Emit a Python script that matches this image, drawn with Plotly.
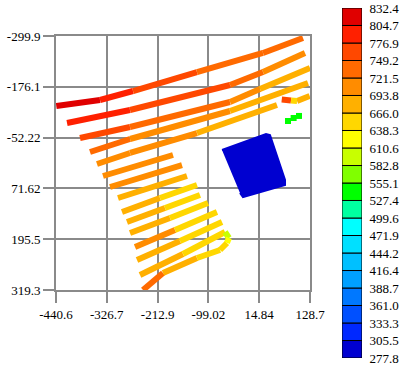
import plotly.graph_objects as go

# ---------------- colour classes ----------------
bounds = [277.8, 305.5, 333.3, 361.0, 388.7, 416.4, 444.2, 471.9, 499.6, 527.4, 555.1,
          582.8, 610.6, 638.3, 666.0, 693.8, 721.5, 749.2, 776.9, 804.7, 832.4]
bound_labels = ["277.8", "305.5", "333.3", "361.0", "388.7", "416.4", "444.2", "471.9", "499.6",
                "527.4", "555.1", "582.8", "610.6", "638.3", "666.0", "693.8", "721.5", "749.2",
                "776.9", "804.7", "832.4"]
bin_colors = ["#0000d0", "#0028ff", "#0050ff", "#0078ff", "#00a0ff", "#00c0ff", "#00e0ff",
              "#00ffff", "#00ffa0", "#00ff00", "#80ff00", "#c8ff00", "#ffff00", "#ffd700",
              "#ffb000", "#ff8c00", "#ff6a00", "#ff4800", "#ff2000", "#e00000"]

# ---------------- axes ----------------
x_ticks = [-440.6, -326.74, -212.88, -99.02, 14.84, 128.7]
x_labels = ["-440.6", "-326.7", "-212.9", "-99.02", "14.84", "128.7"]
y_ticks = [-299.9, -176.06, -52.22, 71.62, 195.46, 319.3]
y_labels = ["-299.9", "-176.1", "-52.22", "71.62", "195.5", "319.3"]

# ---------------- survey tracks (vertices + one value per segment) ----------------
track01_x = [-440.0, -342.0, -268.0, -124.6, 23.4, 113.0]
track01_y = [-129.3, -143.9, -165.8, -212.1, -258.5, -295.0]
track01_v = [808, 790, 765, 742, 730]

track02_x = [-415.9, -274.7, -50.6, 23.4, 117.5]
track02_y = [-87.8, -119.5, -180.4, -212.1, -258.5]
track02_v = [785, 755, 725, 700]

track03_x = [-386.8, -274.7, -50.6, 16.6, 128.7]
track03_y = [-51.2, -78.1, -139.0, -170.7, -221.9]
track03_v = [760, 735, 710, 688]

track04_x = [-364.4, -274.7, -50.6, 124.2]
track04_y = [-17.1, -48.8, -117.1, -185.3]
track04_v = [738, 712, 688]

track05_x = [-348.7, -274.7, -124.6, 54.7]
track05_y = [12.1, -14.7, -63.4, -131.7]
track05_v = [712, 700, 690]

piece05_x = [65.4, 86.1, 99.6, 128.0]
piece05_y = [-145.1, -142.6, -141.4, -153.6]
piece05_v = [765, 650, 680]

track06_x = [-335.3, -178.4]
track06_y = [41.4, -9.8]
track06_v = [705]

track07_x = [-319.6, -158.2]
track07_y = [68.2, 14.6]
track07_v = [698]

track08_x = [-301.6, -147.0]
track08_y = [95.0, 41.4]
track08_v = [692]

track09_x = [-292.7, -207.5, -124.6]
track09_y = [129.2, 95.0, 63.3]
track09_v = [685, 665]

track10_x = [-281.5, -196.3, -117.9]
track10_y = [153.5, 119.4, 87.7]
track10_v = [685, 660]

track11_x = [-274.7, -185.1, -99.9]
track11_y = [180.4, 143.8, 107.2]
track11_v = [690, 660]

track12_x = [-263.5, -173.9, -79.8]
track12_y = [214.5, 173.0, 129.2]
track12_v = [695, 660]

track13_x = [-259.1, -162.7, -68.5]
track13_y = [246.2, 199.9, 153.5]
track13_v = [690, 655]

track14_x = [-252.3, -156.0, -61.8, -52.9]
track14_y = [282.7, 231.5, 177.9, 192.5]
track14_v = [680, 655, 600]

track15_x = [-245.6, -200.8, -124.6, -73.0, -57.4, -52.9]
track15_y = [319.3, 277.9, 241.3, 221.8, 204.7, 192.5]
track15_v = [725, 685, 665, 650, 625]

# low-value block
patch_x = [-68.5, -43.9, 30.1, 39.0, 72.7, 72.7, -21.5, -28.2]
patch_y = [-22.0, -31.7, -61.0, -58.6, 51.1, 63.3, 92.6, 82.8]
patch_v = 290.0

# isolated points
spot_x = [79.4, 92.0, 104.0]
spot_y = [-92.7, -100.0, -105.0]
spot_v = [545, 540, 540]

tracks = [
    (track01_x, track01_y, track01_v), (track02_x, track02_y, track02_v),
    (track03_x, track03_y, track03_v), (track04_x, track04_y, track04_v),
    (track05_x, track05_y, track05_v), (piece05_x, piece05_y, piece05_v),
    (track06_x, track06_y, track06_v), (track07_x, track07_y, track07_v),
    (track08_x, track08_y, track08_v), (track09_x, track09_y, track09_v),
    (track10_x, track10_y, track10_v), (track11_x, track11_y, track11_v),
    (track12_x, track12_y, track12_v), (track13_x, track13_y, track13_v),
    (track14_x, track14_y, track14_v), (track15_x, track15_y, track15_v),
]


def color_of(v):
    for i in range(len(bin_colors)):
        if bounds[i] <= v < bounds[i + 1]:
            return bin_colors[i]
    return bin_colors[-1] if v >= bounds[-1] else bin_colors[0]


fig = go.Figure()

# low-value block
fig.add_trace(go.Scatter(x=patch_x, y=patch_y, mode="lines", fill="toself",
                         fillcolor=color_of(patch_v),
                         line=dict(color=color_of(patch_v), width=2),
                         hoverinfo="skip", showlegend=False))

# group segments by colour
groups = {}
for tx, ty, tv in tracks:
    for i, v in enumerate(tv):
        c = color_of(v)
        g = groups.setdefault(c, ([], []))
        g[0].extend([tx[i], tx[i + 1], None])
        g[1].extend([ty[i], ty[i + 1], None])

for c, (gx, gy) in groups.items():
    fig.add_trace(go.Scatter(x=gx, y=gy, mode="lines",
                             line=dict(color=c, width=6),
                             hoverinfo="skip", showlegend=False))

fig.add_trace(go.Scatter(x=spot_x, y=spot_y, mode="markers",
                         marker=dict(symbol="square", size=6,
                                     color=[color_of(v) for v in spot_v]),
                         hoverinfo="skip", showlegend=False))

# colour legend bar
fig.add_trace(go.Bar(x=[0] * 20,
                     y=[bounds[i + 1] - bounds[i] for i in range(20)],
                     base=bounds[:-1], width=1,
                     marker=dict(color=bin_colors, line=dict(color="black", width=1)),
                     xaxis="x2", yaxis="y2", cliponaxis=False,
                     hoverinfo="skip", showlegend=False))

W, H = 408, 369
font = dict(family="Liberation Serif", size=13, color="black")
grid = "#8a8a8a"

fig.update_layout(
    width=W, height=H,
    margin=dict(l=0, r=0, t=0, b=0),
    paper_bgcolor="white", plot_bgcolor="white",
    showlegend=False,
    xaxis=dict(domain=[56 / W, 310 / W], range=[-440.6, 128.7],
               tickvals=x_ticks, ticktext=x_labels, tickfont=font,
               showgrid=True, gridcolor=grid, gridwidth=2,
               ticks="outside", ticklen=11, tickwidth=2, tickcolor=grid,
               showline=True, linecolor=grid, linewidth=2, mirror=True,
               zeroline=False, automargin=False, anchor="y"),
    yaxis=dict(domain=[(H - 290) / H, (H - 36) / H], range=[319.3, -299.9],
               tickvals=y_ticks, ticktext=y_labels, tickfont=font,
               showgrid=True, gridcolor=grid, gridwidth=2,
               ticks="outside", ticklen=11, tickwidth=2, tickcolor=grid,
               showline=True, linecolor=grid, linewidth=2, mirror=True,
               zeroline=False, automargin=False, anchor="x"),
    xaxis2=dict(domain=[342 / W, 362 / W], range=[-0.5, 0.5], visible=False,
                anchor="y2", fixedrange=True),
    yaxis2=dict(domain=[(H - 358) / H, (H - 8) / H], range=[277.8, 832.4],
                side="right", anchor="x2", tickvals=bounds, ticktext=bound_labels,
                tickfont=font, showgrid=False, zeroline=False, showline=False,
                ticks="outside", ticklen=4, tickcolor="rgba(0,0,0,0)",
                automargin=False),
)

fig.write_html("out.html", config={"displayModeBar": False},
               post_script="document.body.style.margin='0';document.body.style.overflow='hidden';")
